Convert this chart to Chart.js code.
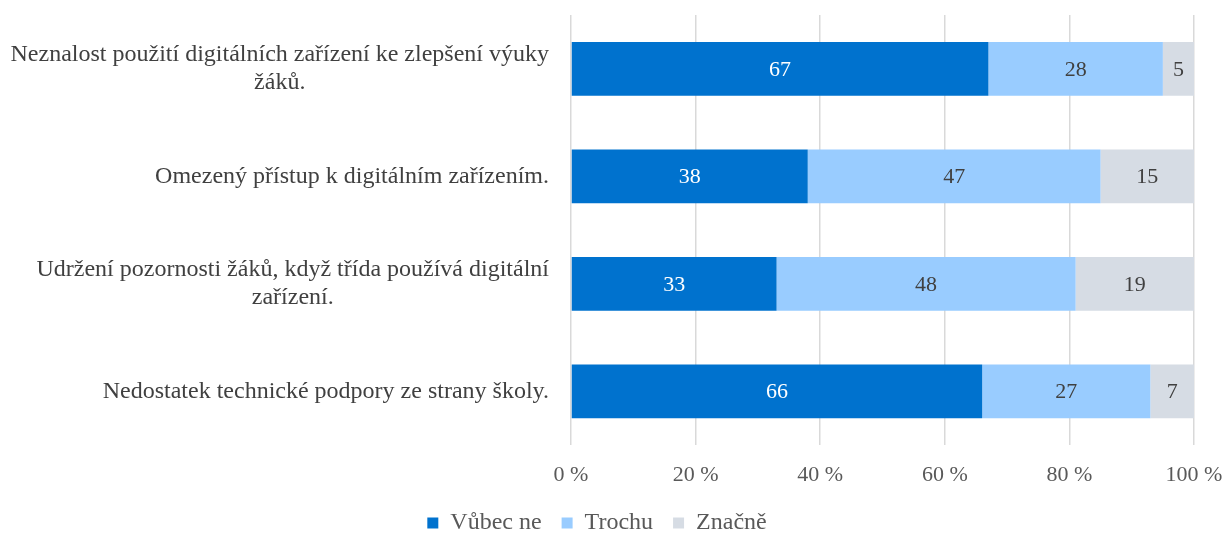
<!DOCTYPE html>
<html>
<head>
  <meta charset="utf-8"/>
  <script src="https://cdn.jsdelivr.net/npm/chart.js@4/dist/chart.umd.min.js"></script>
  <style>
    html, body { margin: 0; padding: 0; background: #ffffff; }
    #wrap { width: 1223px; height: 535px; }
  </style>
</head>
<body>
  <div id="wrap"><canvas id="chart"></canvas></div>
  <script>
    // categories (multi-line labels are arrays)
    var categories = [
      ["Neznalost použití digitálních zařízení ke zlepšení výuky", "žáků."],
      ["Omezený přístup k digitálním zařízením."],
      ["Udržení pozornosti žáků, když třída používá digitální", "zařízení."],
      ["Nedostatek technické podpory ze strany školy."]
    ];
    var seriesNames = ["Vůbec ne", "Trochu", "Značně"];
    var vubecNe = [67, 38, 33, 66];
    var trochu = [28, 47, 48, 27];
    var znacne = [5, 15, 19, 7];
    var tickValues = [0, 20, 40, 60, 80, 100];

    var FONT = "'Liberation Serif', 'Times New Roman', serif";
    var colors = ["#0072CE", "#99CCFF", "#D6DCE4"];
    var labelColors = ["#ffffff", "#404040", "#404040"];

    // values drawn inside the bars
    var barLabels = {
      id: "barLabels",
      afterDatasetsDraw: function(chart) {
        var ctx = chart.ctx;
        ctx.save();
        ctx.font = "22px " + FONT;
        ctx.textAlign = "center";
        ctx.textBaseline = "middle";
        chart.data.datasets.forEach(function(ds, i) {
          var meta = chart.getDatasetMeta(i);
          meta.data.forEach(function(el, j) {
            ctx.fillStyle = labelColors[i];
            ctx.fillText(String(ds.data[j]), (el.x + el.base) / 2, el.y + 1);
          });
        });
        ctx.restore();
      }
    };

    // category labels: right aligned block, lines centered within it
    var catLabels = {
      id: "catLabels",
      afterDraw: function(chart) {
        var ctx = chart.ctx;
        var y = chart.scales.y;
        var right = 549;
        var lineH = 28;
        ctx.save();
        ctx.font = "24px " + FONT;
        ctx.fillStyle = "#404040";
        ctx.textAlign = "center";
        ctx.textBaseline = "middle";
        categories.forEach(function(lines, i) {
          var widest = 0;
          lines.forEach(function(l) { widest = Math.max(widest, ctx.measureText(l).width); });
          var cx = right - widest / 2;
          var cy = y.getPixelForTick(i);
          var top = cy - (lines.length - 1) * lineH / 2;
          lines.forEach(function(l, k) {
            ctx.fillText(l, cx, top + k * lineH);
          });
        });
        ctx.restore();
      }
    };

    new Chart(document.getElementById("chart"), {
      type: "bar",
      data: {
        labels: categories,
        datasets: [
          { label: seriesNames[0], data: vubecNe, backgroundColor: colors[0] },
          { label: seriesNames[1], data: trochu, backgroundColor: colors[1] },
          { label: seriesNames[2], data: znacne, backgroundColor: colors[2] }
        ]
      },
      options: {
        indexAxis: "y",
        responsive: true,
        maintainAspectRatio: false,
        animation: false,
        layout: { padding: { top: 15, right: 29, left: 0, bottom: -10 } },
        datasets: { bar: { barPercentage: 0.5, categoryPercentage: 1.0 } },
        scales: {
          x: {
            stacked: true,
            min: 0,
            max: 100,
            afterBuildTicks: function(s) {
              s.ticks = tickValues.map(function(v) { return { value: v }; });
            },
            afterFit: function(s) {
              s.height = 46;
              s.paddingLeft = 0;
              s.paddingRight = 0;
            },
            grid: { color: "#d9d9d9", lineWidth: 1.5, drawTicks: false },
            border: { display: false },
            ticks: {
              padding: 17,
              color: "#595959",
              font: { family: FONT, size: 22 },
              callback: function(v) { return v + " %"; }
            }
          },
          y: {
            stacked: true,
            grid: { display: false, drawTicks: false },
            border: { display: false },
            ticks: { display: false },
            afterFit: function(s) { s.width = 571; }
          }
        },
        plugins: {
          legend: {
            position: "bottom",
            labels: {
              boxWidth: 11,
              boxHeight: 11,
              padding: 20,
              color: "#595959",
              font: { family: FONT, size: 24 }
            }
          },
          tooltip: { enabled: false }
        }
      },
      plugins: [barLabels, catLabels]
    });
  </script>
</body>
</html>
